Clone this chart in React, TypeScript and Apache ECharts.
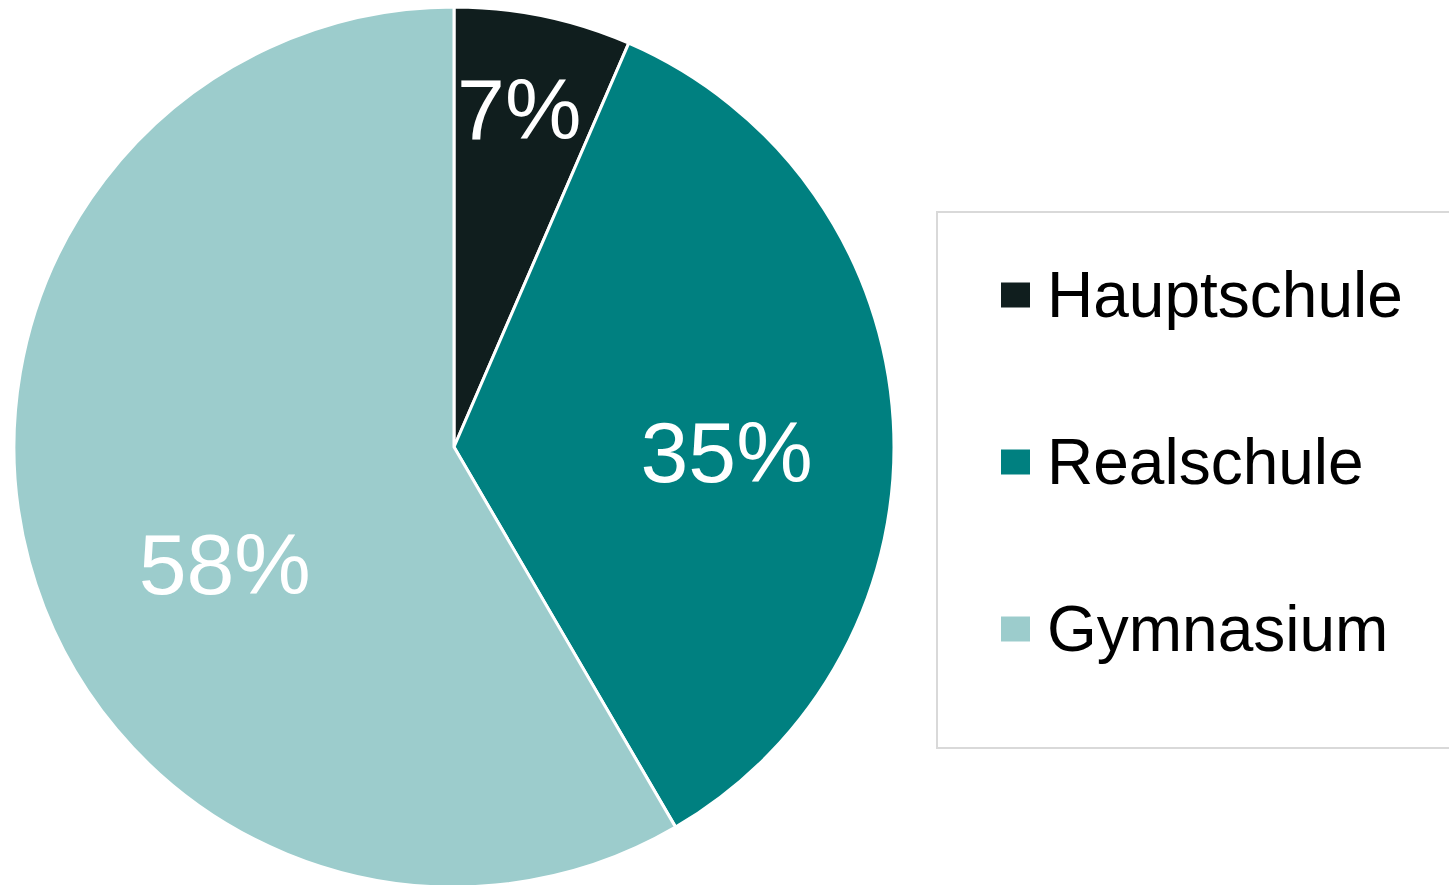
import React, { useEffect, useRef } from "react";
import * as echarts from "echarts";

const categories = ["Hauptschule", "Realschule", "Gymnasium"];
const shares = [6.5, 35.1, 58.4];
const shareLabels = ["7%", "35%", "58%"];
const colors = ["#101e1e", "#008080", "#9ccccc"];
// label nudges away from default inside position (Excel-like placement)
const labelOffsets = [
  [20, -120],
  [50, 18],
  [-14, 59],
];

export default function App() {
  const ref = useRef<HTMLDivElement>(null);
  useEffect(() => {
    document.body.style.margin = "0";
    const chart = echarts.init(ref.current!, null, { renderer: "svg" });
    chart.setOption({
      animation: false,
      backgroundColor: "#ffffff",
      graphic: [
        {
          type: "rect",
          shape: { x: 937, y: 212, width: 540, height: 536 },
          style: { fill: "none", stroke: "#d9d9d9", lineWidth: 2 },
          z: 0,
        },
      ],
      legend: {
        orient: "vertical",
        left: 994,
        top: 254,
        itemWidth: 31,
        itemHeight: 27,
        itemGap: 95,
        icon: "rect",
        selectedMode: false,
        data: categories,
        textStyle: {
          fontFamily: "Liberation Sans, Arial, sans-serif",
          fontSize: 64,
          lineHeight: 64,
          color: "#000000",
          padding: [0, 0, 8, 11],
        },
      },
      series: [
        {
          type: "pie",
          center: [454, 447],
          radius: 440,
          startAngle: 90,
          clockwise: true,
          avoidLabelOverlap: false,
          itemStyle: { borderColor: "#ffffff", borderWidth: 3 },
          label: {
            show: true,
            position: "inside",
            formatter: (p: any) => shareLabels[p.dataIndex],
            color: "#ffffff",
            fontFamily: "Liberation Sans, Arial, sans-serif",
            fontSize: 86,
          },
          labelLine: { show: false },
          emphasis: { disabled: true },
          labelLayout: (p: any) => {
            const o = labelOffsets[p.dataIndex];
            return { dx: o[0], dy: o[1] };
          },
          data: categories.map((name, i) => ({
            name,
            value: shares[i],
            itemStyle: { color: colors[i] },
          })),
        },
      ],
    });
    return () => chart.dispose();
  }, []);
  return <div ref={ref} style={{ width: 1449, height: 885 }} />;
}
